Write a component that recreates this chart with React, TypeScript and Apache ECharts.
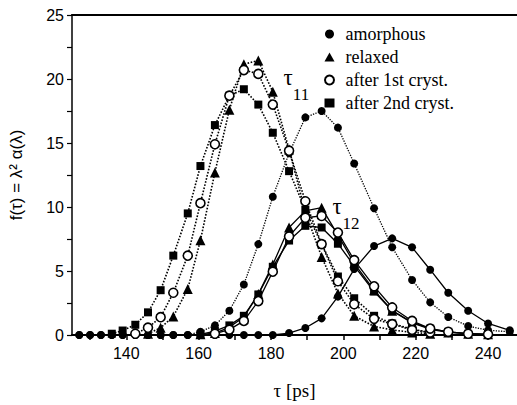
import React, { useEffect, useRef } from "react";
import * as echarts from "echarts";

// τ grid (ps) shared by all measured curves
const TAU = [127, 130, 133, 136, 139, 142.5, 146, 149.5, 153, 157, 160.5, 164.5, 168.5, 172.5, 176.5, 180.5, 185, 189.5, 194, 198.5, 203, 208.5, 213.5, 219, 224, 229, 234.5, 240, 246];

const AMORPHOUS_T11 = [0, 0, 0, 0, 0, 0, 0, 0, 0, 0, 0.25, 0.75, 1.9, 3.95, 7.1, 10.8, 14.2, 17.0, 17.5, 16.2, 13.4, 9.9, 6.85, 4.3, 2.55, 1.4, 0.7, 0.37, 0.25];
const AMORPHOUS_T12 = [0, 0, 0, 0, 0, 0, 0, 0, 0, 0, 0, 0, 0, 0, 0, 0, 0.15, 0.55, 1.3, 3.0, 5.15, 6.95, 7.55, 6.85, 5.1, 3.3, 1.9, 0.9, 0.37];
const RELAXED_T11 = [null, null, null, null, null, null, 0.1, 0.57, 1.44, 3.6, 7.4, 12.7, 17.6, 21.15, 21.45, 19.0, 14.5, 9.6, 6.1, 3.25, 1.5, 0.67, 0.4, 0.2, 0.1, null, null, null, null];
const RELAXED_T12 = [null, null, null, null, null, null, null, null, null, null, 0.05, 0.15, 0.6, 1.4, 3.2, 5.5, 8.4, 9.7, 9.95, 7.8, 5.6, 3.5, 1.9, 0.95, 0.45, 0.2, 0.1, 0.05, null];
const FIRST_T11 = [null, null, null, null, null, 0.1, 0.57, 1.39, 3.3, 6.2, 10.3, 14.9, 18.7, 20.7, 20.4, 18.0, 14.4, 10.45, 7.1, 4.2, 2.4, 1.26, 0.85, 0.4, 0.2, null, null, null, null];
const FIRST_T12 = [null, null, null, null, null, null, null, null, null, null, null, 0.1, 0.42, 1.1, 2.65, 4.95, 7.7, 9.16, 9.3, 8.0, 5.85, 3.8, 2.15, 1.1, 0.5, 0.25, 0.1, 0.05, null];
const SECOND_T11 = [null, null, null, 0.1, 0.35, 0.8, 1.77, 3.5, 6.2, 9.5, 13.2, 16.4, 18.7, 19.2, 18.0, 15.8, 12.8, 9.8, 7.1, 4.57, 2.87, 1.5, 0.9, 0.45, 0.2, null, null, null, null];
const SECOND_T12 = [null, null, null, null, null, null, null, null, null, null, 0.05, 0.3, 0.75, 1.5, 3.17, 5.33, 7.38, 8.53, 8.4, 7.13, 5.4, 3.4, 1.9, 1.0, 0.5, 0.25, 0.1, 0.05, null];

const LEGEND_NAMES = ["amorphous", "relaxed", "after 1st cryst.", "after 2nd cryst."];
const X_TICKS = [130, 140, 150, 160, 170, 180, 190, 200, 210, 220, 230, 240];
const X_LABELS = [140, 160, 180, 200, 220, 240];

const pairs = (vals: (number | null)[]) =>
  TAU.map((t, i) => (vals[i] == null ? null : [t, vals[i] as number])).filter((p) => p !== null);

export default function App() {
  const ref = useRef<HTMLDivElement>(null);
  useEffect(() => {
    if (!ref.current) return;
    const chart = echarts.init(ref.current, undefined, { renderer: "svg" });
    const serif = "Liberation Serif";
    const sans = "Liberation Sans";
    const black = "#000";

    const dotted = (w: number) => ({ color: black, width: w, type: [w, w] as any });
    const solid = { color: black, width: 1.3, type: "solid" as const };

    const mk = (name: string, vals: (number | null)[], line: any, symbol: string, size: number, itemStyle: any) => ({
      type: "line",
      name,
      data: pairs(vals),
      symbol,
      symbolSize: size,
      lineStyle: line,
      itemStyle,
      showSymbol: true,
      z: 2,
    });

    const filled = { color: black };
    const open = { color: "#fff", borderColor: black, borderWidth: 1.6 };

    chart.setOption({
      animation: false,
      backgroundColor: "#fff",
      grid: { left: 68, top: 15, right: 0, bottom: 64 },
      legend: {
        orient: "vertical",
        left: 319,
        top: 20,
        itemWidth: 10,
        itemHeight: 9,
        itemGap: 5,
        textStyle: { fontFamily: serif, fontSize: 18, color: black, padding: [0, 0, 0, 6] },
        data: [
          { name: LEGEND_NAMES[0], icon: "circle" },
          { name: LEGEND_NAMES[1], icon: "triangle" },
          { name: LEGEND_NAMES[2], icon: "circle" },
          { name: LEGEND_NAMES[3], icon: "rect" },
        ],
        selectedMode: false,
      },
      xAxis: [
        {
          type: "value",
          min: 125,
          max: 248,
          name: "τ [ps]",
          nameLocation: "middle",
          nameGap: 46,
          nameTextStyle: { fontFamily: serif, fontSize: 19, color: black },
          axisLine: { show: true, lineStyle: { color: black, width: 2.2 } },
          axisTick: { show: true, customValues: X_TICKS, length: 5, inside: false, lineStyle: { color: black, width: 1.5 } },
          axisLabel: { customValues: X_LABELS, fontFamily: sans, fontSize: 16, color: black, margin: 10 },
          splitLine: { show: false },
        },
        {
          type: "value",
          position: "top",
          min: 125,
          max: 248,
          axisLine: { show: true, lineStyle: { color: black, width: 2.2 } },
          axisTick: { show: false },
          axisLabel: { show: false },
          splitLine: { show: false },
        },
      ],
      yAxis: {
        type: "value",
        min: 0,
        max: 25,
        interval: 5,
        name: "f(τ) = λ² α(λ)",
        nameLocation: "middle",
        nameRotate: 90,
        nameGap: 47,
        nameTextStyle: { fontFamily: sans, fontSize: 17, color: black },
        axisLine: { show: true, lineStyle: { color: black, width: 1.5 } },
        axisTick: { show: true, length: 5, lineStyle: { color: black, width: 1.2 } },
        minorTick: { show: true, splitNumber: 2, length: 5, lineStyle: { color: black, width: 1.2 } },
        axisLabel: { fontFamily: sans, fontSize: 16, color: black, margin: 8 },
        splitLine: { show: false },
      },
      graphic: [
        { type: "text", x: 288, y: 77, style: { text: "τ", font: `23px "${serif}"`, fill: black, align: "center", verticalAlign: "middle" } },
        { type: "text", x: 301, y: 94, style: { text: "11", font: `17px "${serif}"`, fill: black, align: "center", verticalAlign: "middle" } },
        { type: "text", x: 337, y: 206, style: { text: "τ", font: `23px "${serif}"`, fill: black, align: "center", verticalAlign: "middle" } },
        { type: "text", x: 351, y: 223, style: { text: "12", font: `17px "${serif}"`, fill: black, align: "center", verticalAlign: "middle" } },
      ],
      series: [
        mk(LEGEND_NAMES[0], AMORPHOUS_T11, dotted(1.3), "circle", 8, filled),
        mk(LEGEND_NAMES[0], AMORPHOUS_T12, solid, "circle", 8, filled),
        mk(LEGEND_NAMES[1], RELAXED_T11, dotted(1.6), "triangle", 10, filled),
        mk(LEGEND_NAMES[1], RELAXED_T12, solid, "triangle", 10, filled),
        mk(LEGEND_NAMES[3], SECOND_T11, dotted(1.6), "rect", 8, filled),
        mk(LEGEND_NAMES[3], SECOND_T12, solid, "rect", 8, filled),
        mk(LEGEND_NAMES[2], FIRST_T11, dotted(1.6), "circle", 9, open),
        mk(LEGEND_NAMES[2], FIRST_T12, solid, "circle", 9, open),
      ],
    });
    return () => chart.dispose();
  }, []);
  return <div ref={ref} style={{ position: "fixed", left: 0, top: 0, width: 517, height: 405 }} />;
}
